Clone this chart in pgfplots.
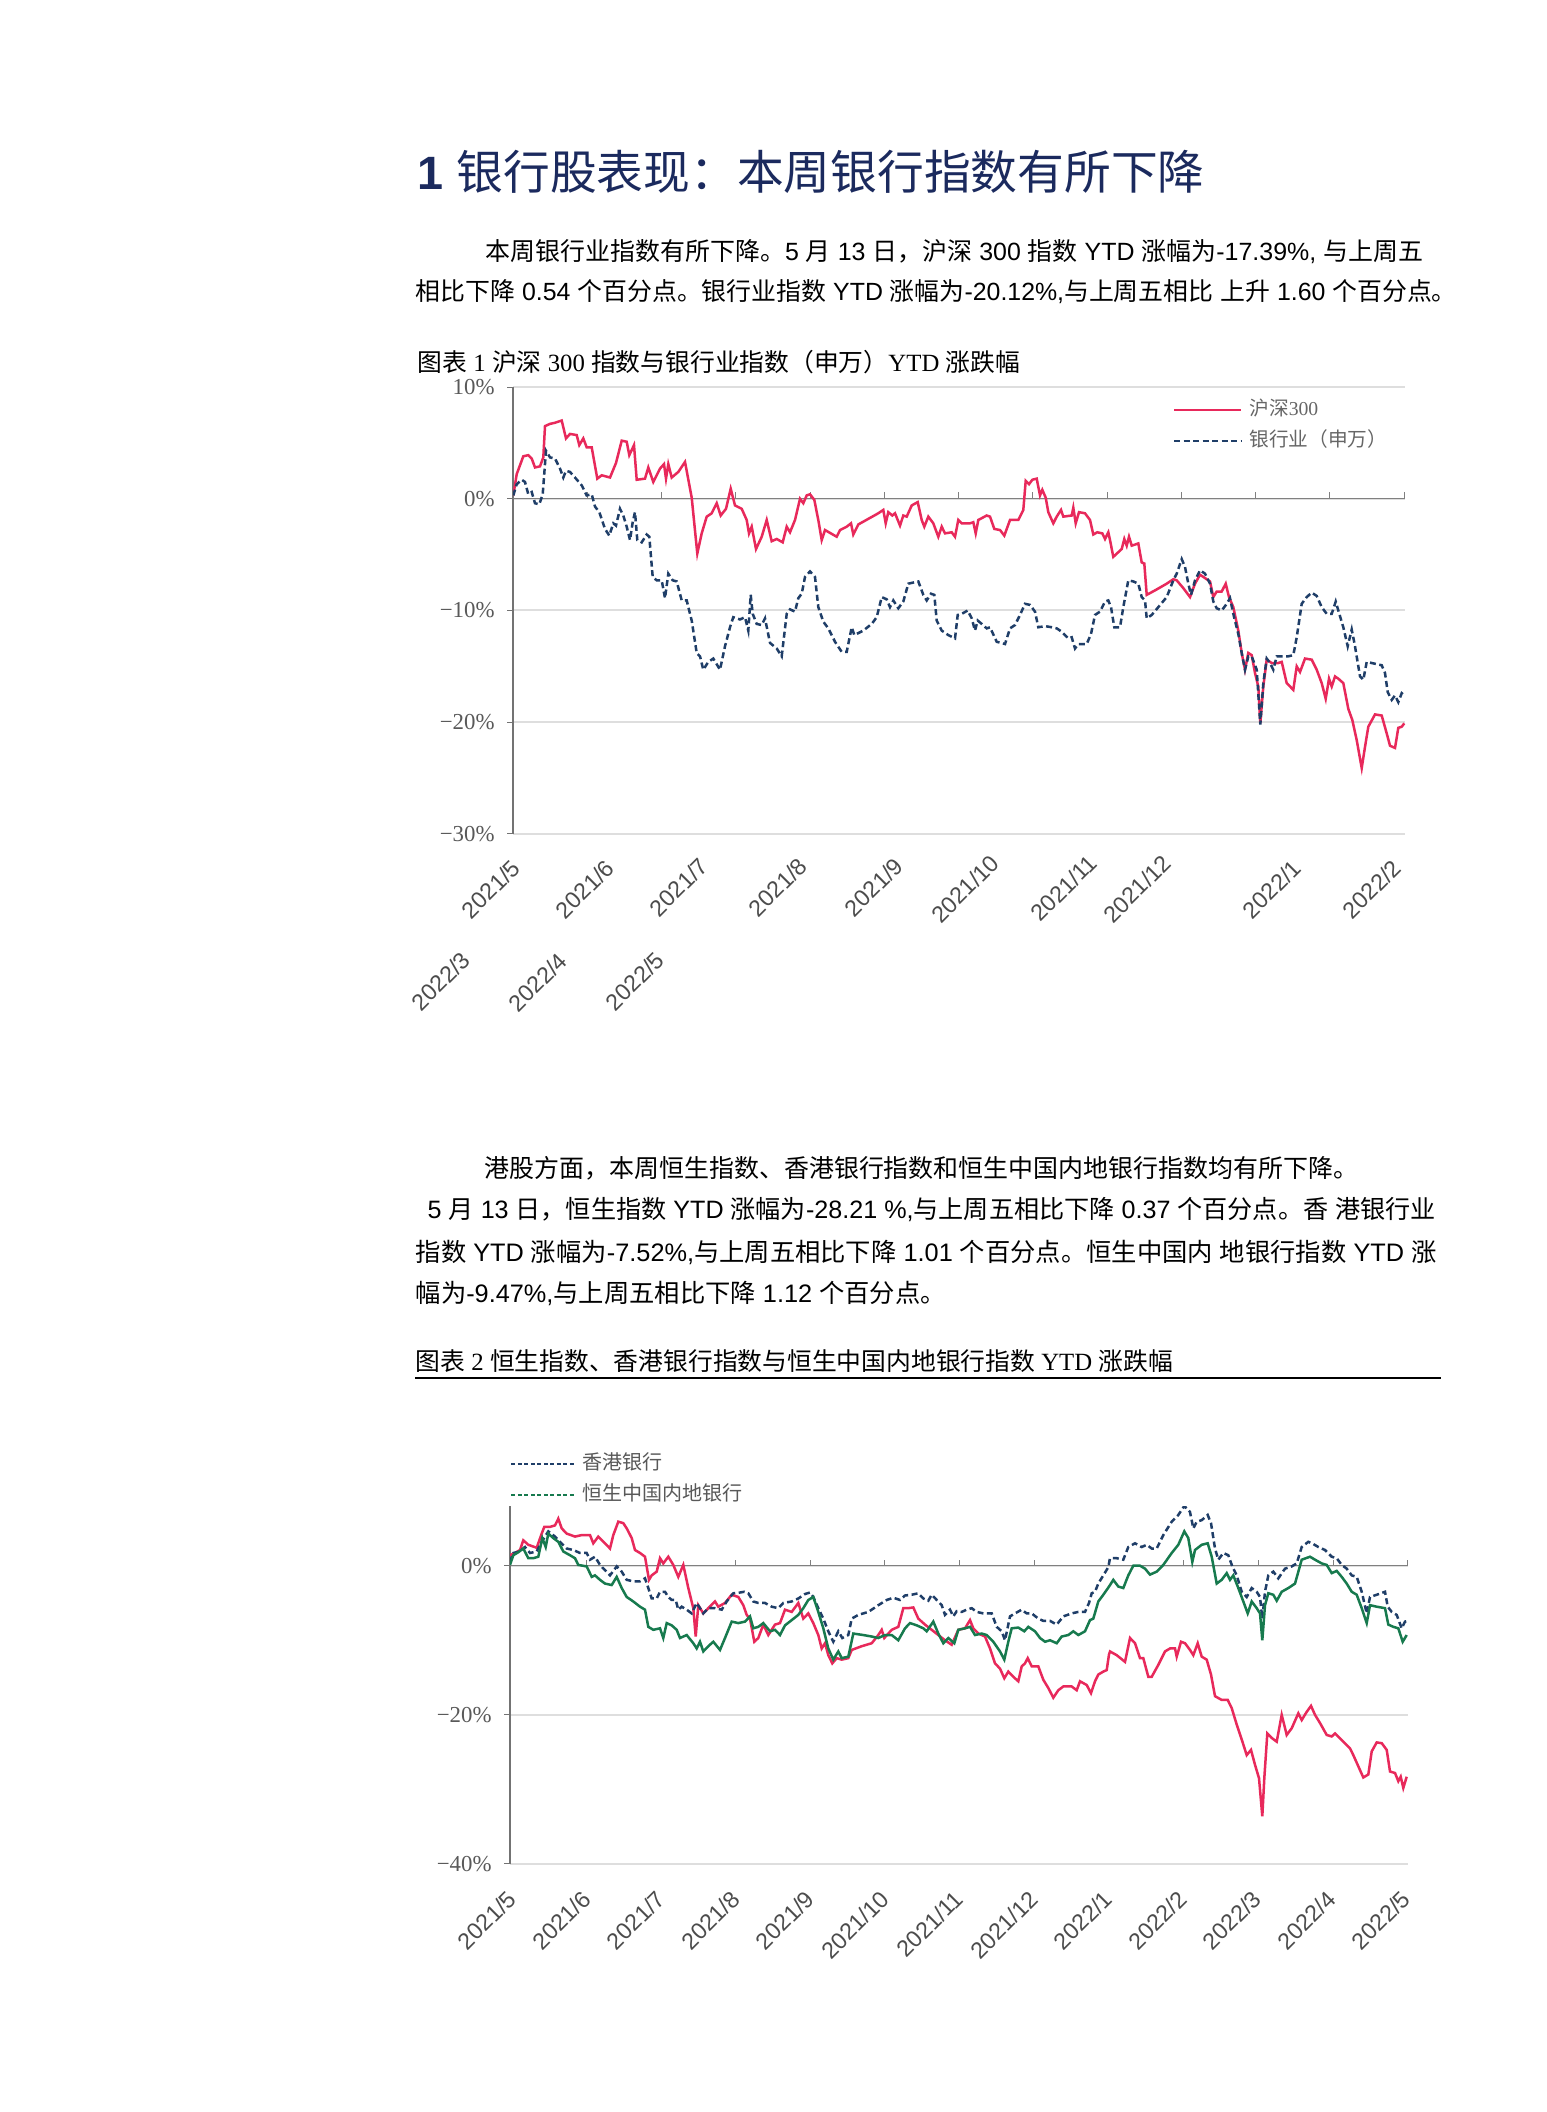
\documentclass[border=0pt]{standalone}
\usepackage{pgfplots}
\pgfplotsset{compat=1.18}
\usepackage{fontspec}
\setmainfont{Liberation Sans}
\newfontfamily\seriffont{Liberation Serif}
\newfontfamily\cjkfont{Noto Sans CJK SC}
\XeTeXinterchartokenstate=1
\newXeTeXintercharclass\cjkclass
\makeatletter
\count@="2E80
\loop
  \XeTeXcharclass\count@=\cjkclass
  \advance\count@ by 1
\ifnum\count@<"A000 \repeat
\count@="FF00
\loop
  \XeTeXcharclass\count@=\cjkclass
  \advance\count@ by 1
\ifnum\count@<"FFF0 \repeat
\makeatother
\XeTeXinterchartoks 0 \cjkclass = {\begingroup\cjkfont}
\XeTeXinterchartoks 4095 \cjkclass = {\begingroup\cjkfont}
\XeTeXinterchartoks \cjkclass 0 = {\endgroup}
\XeTeXinterchartoks \cjkclass 4095 = {\endgroup}
\definecolor{hsred}{HTML}{E8295B}
\definecolor{bankblue}{HTML}{1F3E68}
\definecolor{hkgreen}{HTML}{177A4E}
\definecolor{navy}{HTML}{1B2A5E}
\newcommand\fs[1]{\fontsize{#1}{#1}\selectfont}
\begin{document}
\begin{tikzpicture}[x=0.1mm,y=0.1mm]
\path[fill=white] (0,0) rectangle (1547,-2112);
% heading and text
\node[anchor=west,inner sep=0,text=navy] at (417,-172) {\fs{13.3}\textbf{1} 银行股表现：本周银行指数有所下降};
\node[anchor=west,inner sep=0] at (485,-252) {\fs{7.1}本周银行业指数有所下降。5 月 13 日，沪深 300 指数 YTD 涨幅为-17.39\%, 与上周五};
\node[anchor=west,inner sep=0] at (415,-292) {\fs{7.08}相比下降 0.54 个百分点。银行业指数 YTD 涨幅为-20.12\%,与上周五相比 上升 1.60 个百分点。};
\node[anchor=west,inner sep=0] at (417,-362) {\seriffont\fs{7.05}图表 1 沪深 300 指数与银行业指数（申万）YTD 涨跌幅};
\node[anchor=west,inner sep=0] at (484,-1168) {\fs{7.1}港股方面，本周恒生指数、香港银行指数和恒生中国内地银行指数均有所下降。};
\node[anchor=west,inner sep=0] at (427,-1210) {\fs{7.15}5 月 13 日，恒生指数 YTD 涨幅为-28.21 \%,与上周五相比下降 0.37 个百分点。香 港银行业};
\node[anchor=west,inner sep=0] at (415,-1252) {\fs{7.2}指数 YTD 涨幅为-7.52\%,与上周五相比下降 1.01 个百分点。恒生中国内 地银行指数 YTD 涨};
\node[anchor=west,inner sep=0] at (415,-1293) {\fs{7.2}幅为-9.47\%,与上周五相比下降 1.12 个百分点。};
\node[anchor=west,inner sep=0] at (415,-1361) {\seriffont\fs{7.05}图表 2 恒生指数、香港银行指数与恒生中国内地银行指数 YTD 涨跌幅};
\draw[black, line width=0.15mm] (415,-1378) -- (1441,-1378);
% ---------------- chart 1
\begin{axis}[
  at={(51.3mm,-83.4mm)}, anchor=south west,
  scale only axis, width=89.2mm, height=44.7mm,
  xmin=513, xmax=1405, ymin=-30, ymax=10,
  axis y line*=left, axis x line=none,
  y axis line style={draw=black!55, line width=0.12mm},
  xtick=\empty,
  ytick={-30,-20,-10,0,10},
  yticklabels={−30\%,−20\%,−10\%,0\%,10\%},
  yticklabel style={font=\seriffont\fs{6.5}, text=black!65},
  ymajorgrids, grid style={draw=black!13, line width=0.2mm},
  major tick length=0.6mm, tick align=outside,
  tick style={draw=black!55, line width=0.1mm},
  legend style={draw=none, fill=none, at={(0.739,0.99)}, anchor=north west,
    font=\seriffont\fs{5.6}, text=black!60, row sep=-0.5mm, inner sep=0pt},
  legend cell align=left,
  legend image code/.code={\draw[#1] (0mm,0mm) -- (6.7mm,0mm);},
]
\draw[black!50, line width=0.13mm] (axis cs:513,0) -- (axis cs:1405,0);
\pgfplotsinvokeforeach{587.25,661.5,735.75,810,884.25,958.5,1032.75,1107,1181.25,1255.5,1329.75,1404}{
  \draw[black!50, line width=0.1mm] (axis cs:#1,0) -- ++(0mm,0.7mm);}
\addplot[hsred, line width=0.25mm] coordinates {
(513.3,0.3)(516.7,2.2)(523.3,3.8)(528.3,3.9)(531.7,3.6)(535,2.8)(540,2.9)(543.3,3.7)(545,6.5)(550,6.7)
(555,6.8)(561.7,7.0)(566,5.4)(570,5.8)(576.7,5.7)(579.3,4.8)(583.3,5.4)(586.7,4.6)(591.7,4.6)(597.3,1.8)
(601.7,2.1)(610,1.9)(616,3.2)(621.7,5.2)(626.7,5.1)(629.3,3.9)(634,4.8)(636.7,1.7)(645,1.8)(648.3,2.8)
(653.3,1.5)(660,2.7)(664,3.1)(666,1.8)(668.3,3.1)(671.7,1.9)(678.3,2.4)(685,3.3)(691.7,0.1)(697.3,-4.9)
(701.7,-3.1)(706.7,-1.6)(711.7,-1.3)(716.7,-0.4)(720.7,-1.5)(726,-0.9)(730.7,0.9)(735,-0.6)(741.7,-0.9)(746.7,-1.9)
(749,-3.1)(751.7,-2.5)(756,-4.5)(761.7,-3.4)(766.7,-1.9)(771.7,-3.8)(776.7,-3.6)(782.7,-3.9)(786.7,-2.5)(790,-3.0)
(795,-1.9)(800,0.0)(803.3,-0.4)(806.7,0.3)(810,0.4)(814.3,-0.1)(818.3,-1.9)(821.7,-3.7)(825,-2.8)(836.7,-3.4)
(840,-2.8)(846.7,-2.5)(851,-2.2)(853.3,-3.2)(858.3,-2.3)(868.3,-1.8)(878.3,-1.3)(883.3,-1.0)(885.7,-2.2)(888.3,-1.2)
(892.3,-1.5)(895,-1.3)(900,-2.4)(903.3,-1.5)(906.7,-1.6)(911.7,-0.6)(917.7,-0.3)(921.7,-1.9)(924.3,-2.5)(928.3,-1.6)
(933.3,-2.2)(938.3,-3.4)(941.7,-2.5)(945,-3.1)(951.7,-3.0)(955,-3.4)(958.3,-1.9)(961.7,-2.2)(970,-2.2)(973.3,-2.1)
(975.7,-3.1)(978.3,-1.9)(986.7,-1.5)(990,-1.6)(994.3,-2.7)(1000,-2.8)(1004.3,-3.3)(1010,-1.9)(1013.3,-1.9)(1018.3,-1.9)
(1023.3,-1.0)(1025.7,1.6)(1029,1.3)(1032.3,1.7)(1036.7,1.8)(1040,0.3)(1042.3,0.8)(1045.7,0.1)(1048.3,-1.2)(1053.3,-2.2)
(1056.7,-1.6)(1061,-1.0)(1063.3,-1.6)(1071.7,-1.5)(1073.3,-0.8)(1075.7,-2.2)(1079,-1.2)(1085,-1.3)(1090,-1.9)(1093.3,-3.2)
(1097.3,-3.0)(1102.3,-3.1)(1105,-3.6)(1108.3,-3.0)(1110,-3.7)(1113.3,-5.2)(1121.7,-4.5)(1124.3,-3.6)(1126.7,-4.2)(1129,-3.4)
(1131.7,-4.2)(1138.3,-4.0)(1141.7,-5.7)(1144.3,-5.8)(1146.7,-8.6)(1155,-8.2)(1166.7,-7.6)(1173.3,-7.2)(1176.7,-7.3)(1183.3,-8.0)
(1190,-8.8)(1195,-7.6)(1200,-6.8)(1205,-7.1)(1210,-7.4)(1213.3,-8.8)(1216.7,-8.3)(1221.7,-8.3)(1225.7,-7.6)(1229,-8.8)
(1233.3,-9.7)(1238.3,-11.8)(1241.7,-13.8)(1245,-15.3)(1248.3,-13.8)(1251.7,-14.0)(1255,-15.6)(1258.3,-16.8)(1260.3,-20.1)(1263.3,-16.8)
(1266.7,-14.4)(1271.7,-14.7)(1278.3,-14.7)(1281.7,-14.6)(1286.7,-16.5)(1293.3,-17.1)(1296.7,-15.0)(1300,-15.5)(1305,-14.3)(1311.7,-14.4)
(1316.7,-15.3)(1321.7,-16.5)(1325.7,-17.9)(1329,-16.1)(1331.7,-16.8)(1335,-15.9)(1338.3,-16.1)(1343.3,-16.5)(1348.3,-18.8)(1352.3,-19.8)
(1356.7,-21.6)(1361.7,-24.1)(1365,-22.2)(1368.3,-20.4)(1375,-19.3)(1381.7,-19.4)(1386.7,-21.0)(1390,-22.1)(1395,-22.3)(1398.3,-20.5)
(1401.7,-20.4)(1404.3,-20.1)
};
\addlegendentry{沪深300}
\addplot[bankblue, line width=0.25mm, dash pattern=on 0.6mm off 0.35mm] coordinates {
(513.3,0.3)(516.7,1.3)(521.7,1.7)(525,1.5)(528.3,0.4)(531.7,0.6)(535,-0.4)(539.3,-0.5)(542.7,0.4)(546,4.3)
(550,3.7)(555,3.6)(560,2.7)(563.3,1.9)(566,2.5)(570,2.4)(575,1.9)(581.7,1.2)(586.7,0.3)(591.7,0.4)
(595,-0.7)(599.3,-1.2)(605,-2.7)(609.3,-3.3)(613.3,-2.2)(616,-2.4)(620,-0.9)(623.3,-1.5)(626.7,-2.5)(630,-3.7)
(632.7,-2.1)(635,-1.2)(637.3,-3.7)(641.7,-3.9)(646.7,-3.2)(649.3,-3.4)(652.7,-7.0)(656.7,-7.3)(661.7,-7.3)(665,-8.9)
(668.3,-6.7)(672.7,-7.3)(676.7,-7.4)(681.7,-9.1)(686.7,-9.1)(691.7,-10.9)(696.7,-13.8)(700,-14.1)(703.3,-15.3)(708.3,-14.6)
(713.3,-14.3)(720,-15.3)(725,-13.2)(730,-11.5)(733.3,-10.6)(740,-10.8)(745,-10.6)(748.3,-11.8)(750.7,-8.6)(752.7,-10.3)
(756.7,-11.2)(761.7,-11.3)(765,-10.7)(770,-12.9)(776.7,-13.4)(781.7,-14.1)(786.7,-10.3)(790,-9.9)(795,-10.1)(798.3,-8.9)
(801.7,-8.5)(805,-7.0)(810,-6.5)(815,-7.0)(818.3,-9.7)(823.3,-11.0)(828.3,-11.6)(835,-12.8)(841.7,-13.7)(846.7,-13.7)
(851.7,-11.5)(854.3,-12.2)(863.3,-11.8)(871.7,-11.2)(876.7,-10.6)(881.7,-8.8)(886.7,-9.0)(890,-9.7)(893.3,-9.1)(898.3,-9.8)
(903.3,-9.2)(908.3,-7.6)(918.3,-7.4)(923.3,-8.6)(926.7,-9.1)(931,-8.5)(934.3,-8.6)(936.7,-10.9)(941.7,-11.8)(948.3,-12.2)
(955,-12.5)(957.7,-10.4)(961.7,-10.3)(967.7,-10.0)(971.7,-10.7)(975,-11.8)(977.7,-10.9)(981.7,-11.2)(986.7,-11.6)(990,-11.5)
(996.7,-12.8)(1005,-13.0)(1010,-11.6)(1015,-11.3)(1020,-10.4)(1025,-9.4)(1030,-9.5)(1035,-10.1)(1038.3,-11.5)(1045,-11.4)
(1051.7,-11.5)(1056.7,-11.6)(1061.7,-11.9)(1068.3,-12.5)(1071.7,-12.4)(1075,-13.4)(1078.3,-13.0)(1086.7,-13.0)(1091,-12.1)(1095,-10.4)
(1100,-10.1)(1105,-9.2)(1108.3,-9.1)(1111,-9.7)(1114.3,-11.5)(1120,-11.5)(1123.3,-9.7)(1128.3,-7.3)(1133.3,-7.4)(1138.3,-7.6)
(1141.7,-8.8)(1145,-9.1)(1146.7,-10.7)(1151.7,-10.4)(1158.3,-9.7)(1166.7,-8.8)(1173.3,-7.3)(1176.7,-6.7)(1181.7,-5.4)(1185,-6.1)
(1188.3,-7.6)(1191,-8.6)(1195,-7.3)(1200,-6.4)(1205,-6.7)(1210,-7.6)(1213.3,-9.2)(1216.7,-9.8)(1221.7,-10.0)(1226.7,-9.4)
(1230,-8.9)(1233.3,-10.3)(1238.3,-12.1)(1241.7,-13.8)(1245,-15.3)(1248.3,-14.1)(1251.7,-14.1)(1256.7,-15.3)(1260.3,-20.2)(1263.3,-16.5)
(1266.7,-14.3)(1270,-14.7)(1273.3,-15.3)(1276.7,-14.1)(1281.7,-14.1)(1288.3,-14.1)(1293.3,-14.0)(1296.7,-12.4)(1301.7,-9.4)(1306.7,-8.8)
(1311.7,-8.4)(1316.7,-8.7)(1321.7,-9.7)(1326.7,-10.3)(1331.7,-10.3)(1335.7,-9.2)(1338.3,-10.0)(1343.3,-11.5)(1347.7,-13.2)(1351.7,-11.7)
(1355,-13.2)(1360,-15.9)(1363.3,-16.2)(1366.7,-14.6)(1371.7,-14.7)(1381.7,-14.9)(1385,-15.6)(1387.7,-17.3)(1391.7,-18.0)(1395,-17.6)
(1398.3,-18.2)(1401.7,-17.4)(1404.3,-17.6)
};
\addlegendentry{银行业（申万）}
\end{axis}
% chart 1 tick labels
\begin{scope}[every node/.style={rotate=45, anchor=north east, inner sep=0, font=\fs{6.6}, text=black!70}]
\node at (510,-857) {2021/5};
\node at (604,-857) {2021/6};
\node at (698,-855) {2021/7};
\node at (797,-855) {2021/8};
\node at (893,-855) {2021/9};
\node at (989,-852) {2021/10};
\node at (1087,-852) {2021/11};
\node at (1161,-852) {2021/12};
\node at (1291,-857) {2022/1};
\node at (1391,-857) {2022/2};
\node at (460,-949) {2022/3};
\node at (557,-950) {2022/4};
\node at (654,-949) {2022/5};
\end{scope}
% ---------------- chart 2
\begin{axis}[
  at={(51.0mm,-186.4mm)}, anchor=south west,
  scale only axis, width=89.8mm, height=35.8mm,
  xmin=510, xmax=1408, ymin=-40, ymax=8,
  axis y line*=left, axis x line=none,
  y axis line style={draw=black!55, line width=0.12mm},
  xtick=\empty,
  ytick={-40,-20,0},
  yticklabels={−40\%,−20\%,0\%},
  yticklabel style={font=\seriffont\fs{6.5}, text=black!65},
  ymajorgrids, grid style={draw=black!13, line width=0.2mm},
  major tick length=0.6mm, tick align=outside,
  tick style={draw=black!55, line width=0.1mm},
  legend style={draw=none, fill=none, at={(0.0,1.17)}, anchor=north west,
    font=\seriffont\fs{5.7}, text=black!65, row sep=-0.5mm, inner sep=0pt},
  legend cell align=left,
  legend image code/.code={\draw[#1] (0mm,0mm) -- (6.3mm,0mm);},
]
\draw[black!50, line width=0.13mm] (axis cs:510,0) -- (axis cs:1408,0);
\pgfplotsinvokeforeach{586,660.7,735.4,810.1,884.8,959.5,1034.2,1108.9,1183.6,1258.3,1333,1407}{
  \draw[black!50, line width=0.1mm] (axis cs:#1,0) -- ++(0mm,0.6mm);}
\addlegendimage{bankblue, line width=0.15mm, dash pattern=on 0.4mm off 0.25mm}
\addlegendentry{香港银行}
\addlegendimage{hkgreen, line width=0.15mm, dash pattern=on 0.4mm off 0.25mm}
\addlegendentry{恒生中国内地银行}
\addplot[hsred, line width=0.25mm, forget plot] coordinates {
(510,1.4)(515,1.7)(520,2.1)(523.3,3.4)(528.3,2.8)(536.7,2.4)(541.7,4.3)(544.3,5.2)(550,5.2)(555,5.4)
(558.3,6.3)(561.7,5.0)(566.7,4.3)(575,3.9)(581.7,4.1)(590,4.1)(593.3,3.0)(598.3,3.9)(605,3.0)(610,2.3)
(613.3,4.1)(618.3,5.9)(623.3,5.7)(626.7,5.0)(631.7,3.7)(635,2.1)(640,1.7)(645,1.2)(649,-1.9)(651.7,-1.3)
(656.7,-0.8)(660,1.0)(663.3,0.3)(668.3,1.2)(673.3,0.1)(678.3,-1.5)(683.3,0.1)(688.3,-3.0)(693.3,-5.7)(695.7,-9.5)
(698.3,-5.3)(703.3,-6.4)(708.3,-5.7)(715,-4.8)(718.3,-5.5)(725,-5.0)(731.7,-3.9)(738.3,-4.2)(743.3,-5.3)(746.7,-6.6)
(750,-7.1)(754.3,-10.2)(758.3,-9.7)(763.3,-7.9)(768.3,-9.3)(775,-7.9)(780,-7.7)(785,-5.9)(791.7,-6.2)(798.3,-5.0)
(803.3,-7.1)(808.3,-6.4)(813.3,-7.7)(818.3,-9.3)(821.7,-11.1)(825,-10.4)(828.3,-12.0)(832.3,-13.1)(836.7,-12.4)(841.7,-12.6)
(848.3,-12.4)(851.7,-11.3)(861.7,-10.8)(871.7,-10.4)(878.3,-9.3)(881.7,-8.6)(884.3,-9.7)(891.7,-8.6)(898.3,-8.2)(903.3,-5.7)
(908.3,-5.7)(913.3,-5.6)(918.3,-7.1)(925,-7.9)(931.7,-8.6)(938.3,-9.3)(945,-10.0)(951.7,-10.6)(958.3,-8.6)(965,-8.4)
(970,-7.3)(973.3,-8.4)(978.3,-9.1)(985,-9.5)(990,-11.1)(995,-13.1)(1000,-13.8)(1004.3,-15.1)(1008.3,-14.2)(1013.3,-14.9)
(1018.3,-15.5)(1021.7,-13.5)(1025,-13.1)(1027.7,-12.4)(1031.7,-13.5)(1038.3,-13.5)(1043.3,-15.3)(1048.3,-16.4)(1053.3,-17.7)(1058.3,-16.7)
(1063.3,-16.2)(1071.7,-16.2)(1076.7,-16.7)(1080,-15.5)(1086.7,-16.0)(1091,-17.1)(1095,-15.5)(1098.3,-14.6)(1103.3,-14.2)(1106.7,-14.0)
(1109,-11.9)(1110,-11.5)(1116.7,-12.0)(1125,-12.9)(1130,-9.7)(1135,-10.4)(1140,-12.4)(1143.3,-12.4)(1148.3,-14.9)(1151.7,-14.9)
(1158.3,-13.3)(1165,-11.5)(1170,-11.1)(1175,-11.1)(1176.7,-12.2)(1181,-10.2)(1185,-10.4)(1190,-11.3)(1193.3,-12.0)(1197.7,-10.4)
(1201.7,-12.2)(1206.7,-12.6)(1211,-14.6)(1215,-17.5)(1221.7,-18.0)(1227.7,-18.0)(1231.7,-19.1)(1236.7,-21.3)(1241.7,-23.3)(1246.7,-25.4)
(1251,-24.7)(1255,-26.7)(1259,-28.5)(1262.3,-33.6)(1264.3,-28.5)(1267.3,-22.5)(1271.7,-23.1)(1276.7,-23.6)(1281.7,-20.0)(1286.7,-22.7)
(1291.7,-21.8)(1298.3,-19.8)(1301.7,-20.7)(1306.7,-19.6)(1311,-18.8)(1315,-20.0)(1320,-21.1)(1326.7,-22.7)(1331.7,-22.9)(1335,-22.5)
(1341.7,-23.4)(1350,-24.5)(1353.3,-25.4)(1358.3,-26.9)(1363.3,-28.4)(1368.3,-28.0)(1371.7,-24.9)(1376.7,-23.7)(1381.7,-23.8)(1386.7,-24.7)
(1390,-27.6)(1395,-27.8)(1398.3,-28.9)(1400.7,-28.3)(1403.3,-29.8)(1406.7,-28.3)
};
\addplot[bankblue, line width=0.25mm, dash pattern=on 0.6mm off 0.35mm, forget plot] coordinates {
(510,0.5)(513.3,1.7)(520,1.9)(525,2.5)(530,1.7)(536.7,1.9)(541.7,3.2)(548.3,4.6)(555,3.9)(560,3.2)
(566.7,2.3)(573.3,2.1)(580,1.7)(586.7,1.7)(590,0.8)(595,1.2)(600,0.1)(605,-0.6)(610,-1.3)(616.7,-0.1)
(621.7,-0.8)(626.7,-1.9)(633.3,-2.1)(640,-2.1)(645,-1.7)(648.3,-3.0)(651.7,-4.4)(656.7,-4.4)(660,-3.5)(665,-3.5)
(668.3,-4.2)(671.7,-4.6)(675.7,-4.6)(678.3,-5.9)(681.7,-5.5)(686.7,-5.9)(691.7,-6.4)(696.7,-5.0)(703.3,-6.4)(708.3,-5.7)
(715,-5.7)(721.7,-5.9)(726.7,-4.8)(733.3,-3.7)(740,-3.6)(744.3,-3.5)(748.3,-3.7)(753.3,-4.8)(758.3,-5.0)(765,-5.0)
(771.7,-5.5)(778.3,-5.7)(783.3,-5.0)(791.7,-4.8)(798.3,-4.4)(805,-3.8)(810,-3.6)(813.3,-4.2)(818.3,-5.7)(823.3,-7.1)
(828.3,-8.8)(833.3,-10.2)(838.3,-8.8)(842.3,-9.7)(848.3,-9.3)(851.7,-7.1)(858.3,-6.6)(868.3,-6.2)(878.3,-5.3)(886.7,-4.6)
(893.3,-4.3)(900,-4.6)(905,-4.0)(911.7,-3.9)(918.3,-3.7)(923.3,-4.4)(928.3,-4.7)(931.7,-3.9)(936.7,-4.6)(941.7,-5.3)
(945,-6.6)(950,-5.9)(953.3,-6.8)(956.7,-6.1)(961.7,-6.2)(966.7,-5.9)(971.7,-5.7)(976.7,-6.2)(983.3,-6.4)(991.7,-6.4)
(996.7,-8.2)(1001.7,-8.8)(1005,-10.0)(1010,-6.8)(1015,-6.4)(1021.7,-5.9)(1026.7,-6.4)(1031.7,-6.4)(1038.3,-7.1)(1043.3,-7.4)
(1050,-7.4)(1056.7,-7.9)(1063.3,-6.8)(1071.7,-6.4)(1078.3,-6.2)(1085,-6.2)(1089,-5.0)(1091.7,-3.7)(1095,-3.5)(1098.3,-2.4)
(1103.3,-1.3)(1108.3,-0.2)(1110,1.0)(1116.7,1.0)(1123.3,0.8)(1128.3,2.5)(1135,3.0)(1141.7,2.5)(1146.7,2.8)(1151.7,2.3)
(1156.7,2.3)(1163.3,4.1)(1171.7,5.9)(1178.3,6.8)(1184.3,8.0)(1190,7.2)(1193.3,5.0)(1196.7,5.9)(1201.7,6.1)(1207.7,6.8)
(1211,5.7)(1215,2.3)(1218.3,0.8)(1223.3,1.7)(1228.3,1.4)(1232.3,-0.1)(1236.7,-1.3)(1241.7,-3.5)(1246.7,-4.2)(1251.7,-3.0)
(1256.7,-3.5)(1260,-4.2)(1262.3,-7.1)(1265,-3.5)(1268.3,-1.3)(1273.3,-0.8)(1278.3,-1.7)(1285,-0.4)(1291.7,-0.1)(1296.7,0.3)
(1301.7,2.5)(1308.3,3.2)(1313.3,2.9)(1318.3,2.5)(1325,2.1)(1331.7,1.2)(1336.7,1.0)(1341.7,0.1)(1346.7,-0.4)(1351.7,-1.3)
(1356.7,-1.5)(1361.7,-3.5)(1366.7,-6.4)(1370,-4.2)(1376.7,-3.9)(1385,-3.5)(1387.7,-5.5)(1391.7,-6.2)(1396.7,-6.6)(1401.7,-8.4)
(1405,-7.5)(1407.7,-7.4)
};
\addplot[hkgreen, line width=0.25mm, forget plot] coordinates {
(510,0.1)(513.3,1.4)(518.3,1.8)(523.3,2.3)(528.3,1.0)(533.3,1.0)(538.3,1.2)(542.3,3.7)(545.7,2.5)(548.3,4.3)
(553.3,3.7)(558.3,3.2)(563.3,1.9)(570,1.4)(575,1.0)(578.3,0.1)(586.7,-0.1)(591.7,-1.5)(595,-1.3)(600,-1.9)
(605,-2.4)(611.7,-2.6)(616.7,-1.5)(621.7,-3.0)(626.7,-4.2)(633.3,-4.8)(640,-5.5)(645,-5.9)(648.3,-8.2)(653.3,-8.6)
(660,-8.4)(663.3,-9.7)(666.7,-7.7)(671.7,-8.0)(676.7,-8.6)(680,-9.7)(686.7,-9.3)(693.3,-10.4)(696.7,-11.1)(700,-10.2)
(703.3,-11.5)(708.3,-10.8)(713.3,-10.2)(720,-11.3)(725,-9.7)(731.7,-7.5)(738.3,-7.7)(745,-7.5)(750,-6.8)(753.3,-8.4)
(758.3,-8.2)(763.3,-7.7)(770,-8.8)(775,-8.6)(780,-9.3)(785,-8.0)(791.7,-7.3)(798.3,-6.6)(803.3,-5.7)(808.3,-4.6)
(813.3,-4.2)(818.3,-6.2)(823.3,-8.4)(828.3,-11.1)(833.3,-12.6)(838.3,-11.5)(841.7,-12.4)(848.3,-12.2)(853.3,-9.1)(863.3,-9.3)
(871.7,-9.5)(878.3,-9.7)(885,-9.3)(891.7,-9.3)(898.3,-10.0)(905,-8.4)(910,-7.7)(916.7,-8.0)(923.3,-8.4)(926.7,-8.8)
(933.3,-7.5)(938.3,-9.1)(943.3,-10.4)(948.3,-9.7)(954.3,-10.4)(958.3,-8.6)(965,-8.4)(970,-8.2)(975,-9.3)(981.7,-9.1)
(986.7,-9.3)(993.3,-10.2)(1000,-11.5)(1004.3,-12.6)(1008.3,-10.2)(1011.7,-8.4)(1018.3,-8.3)(1024.3,-8.8)(1028.3,-8.2)(1035,-8.8)
(1040,-9.7)(1045,-10.2)(1050,-10.0)(1056.7,-10.4)(1061.7,-9.5)(1068.3,-9.3)(1073.3,-8.8)(1078.3,-9.3)(1085,-8.8)(1090,-7.3)
(1093.3,-7.1)(1098.3,-4.8)(1103.3,-3.9)(1108,-3.0)(1110,-2.6)(1113.3,-1.9)(1118.3,-2.8)(1123.3,-3.0)(1128.3,-1.3)(1133.3,0.0)
(1140,0.0)(1145,-0.4)(1150,-1.2)(1156.7,-0.8)(1163.3,0.1)(1171.7,1.7)(1178.3,2.8)(1184.3,4.6)(1188.3,3.7)(1192.3,0.5)
(1195,2.1)(1201.7,2.8)(1207.7,3.0)(1211.7,1.2)(1216.7,-2.4)(1221.7,-1.9)(1226.7,-1.0)(1230,-1.9)(1233.3,-1.3)(1238.3,-3.0)
(1243.3,-4.8)(1247.7,-6.4)(1251.7,-4.8)(1256.7,-5.7)(1260,-6.4)(1262.3,-10.0)(1265,-5.3)(1268.3,-3.7)(1273.3,-3.9)(1276.7,-4.7)
(1281.7,-3.5)(1288.3,-3.0)(1295,-2.4)(1301.7,0.8)(1310,1.2)(1315,0.8)(1321.7,0.3)(1326.7,0.1)(1331.7,-1.0)(1336.7,-0.7)
(1341.7,-1.5)(1346.7,-2.4)(1351.7,-3.5)(1356.7,-3.9)(1361.7,-5.7)(1366.7,-7.7)(1370,-5.3)(1376.7,-5.5)(1385,-5.7)(1388.3,-7.9)
(1393.3,-8.2)(1398.3,-8.4)(1402.7,-10.2)(1406.7,-9.3)
};
\end{axis}
% chart 2 tick labels
\begin{scope}[every node/.style={rotate=45, anchor=north east, inner sep=0, font=\fs{6.6}, text=black!70}]
\node at (506,-1888) {2021/5};
\node at (580.5,-1888) {2021/6};
\node at (655,-1888) {2021/7};
\node at (729.5,-1888) {2021/8};
\node at (804,-1888) {2021/9};
\node at (878.5,-1888) {2021/10};
\node at (953,-1888) {2021/11};
\node at (1027.5,-1888) {2021/12};
\node at (1102,-1888) {2022/1};
\node at (1176.5,-1888) {2022/2};
\node at (1251,-1888) {2022/3};
\node at (1325.5,-1888) {2022/4};
\node at (1400,-1888) {2022/5};
\end{scope}
\end{tikzpicture}
\end{document}
